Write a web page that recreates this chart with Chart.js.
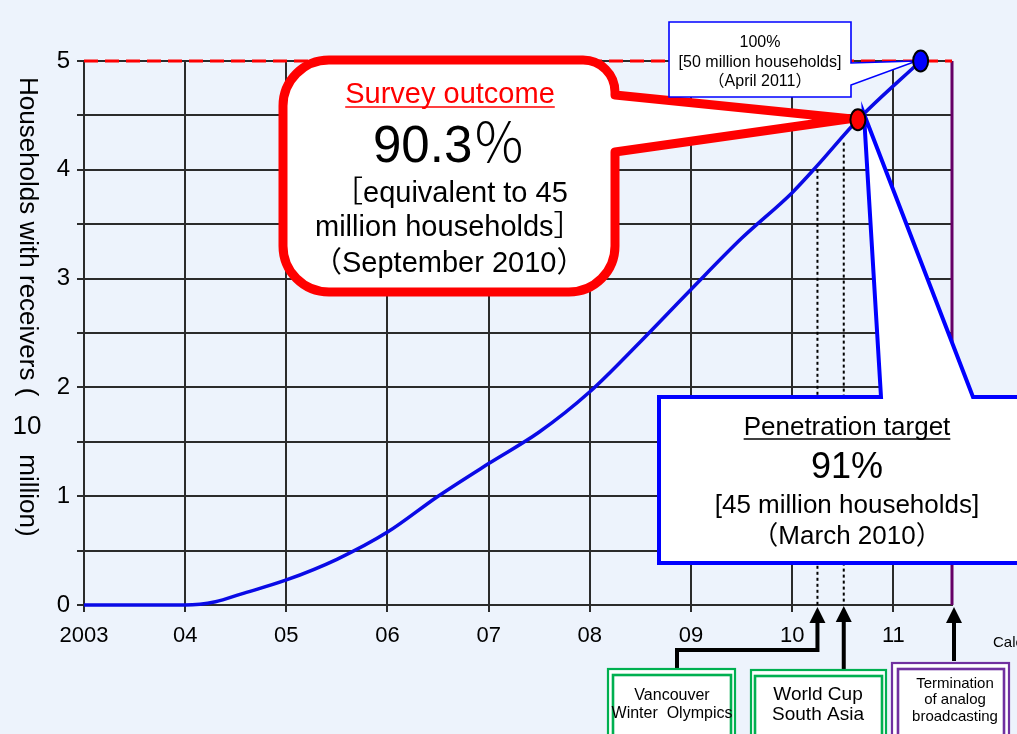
<!DOCTYPE html>
<html>
<head>
<meta charset="utf-8">
<script src="https://cdn.jsdelivr.net/npm/chart.js@4.4.1/dist/chart.umd.min.js"></script>
<style>
  html, body { margin: 0; padding: 0; background: #edf3fc; }
  canvas { display: block; }
</style>
</head>
<body>
<canvas id="chart" width="1017" height="734"></canvas>
<script>
// calendar years on the x axis and their printed labels
const yearTicks = [2003, 2004, 2005, 2006, 2007, 2008, 2009, 2010, 2011];
const yearLabels = ['2003', '04', '05', '06', '07', '08', '09', '10', '11'];
const yTicks = [0, 0.5, 1, 1.5, 2, 2.5, 3, 3.5, 4, 4.5, 5];

// households with receivers (10 million)
const curveX = [2003, 2004, 2004.3, 2004.55, 2005, 2005.5, 2006, 2006.5, 2007, 2007.5, 2008, 2008.5, 2009, 2009.5, 2010, 2010.25, 2010.65, 2011.27];
const curveY = [0, 0, 0.03, 0.1, 0.23, 0.42, 0.67, 1.0, 1.3, 1.59, 1.96, 2.42, 2.9, 3.37, 3.79, 4.04, 4.46, 5.0];

const targetLevel = 5;       // 100% = 50 million households
const axisEnd = 2011.58;     // July 2011, end of analog broadcasting

// survey result (Sept 2010) and full penetration (April 2011)
const surveyPoint = { x: 2010.65, y: 4.46 };
const fullPoint = { x: 2011.27, y: 5.0 };

// events marked under the axis
const eventDates = [2010.25, 2010.51, 2011.58];
const eventLevels = [4.0, 4.25, 5];

const FONT = '"Liberation Sans", Arial, "Noto Sans CJK JP", sans-serif';

function txt(ctx, s, x, y, size, color, align, underline) {
  ctx.font = size + 'px ' + FONT;
  ctx.fillStyle = color || '#000';
  ctx.textAlign = align || 'center';
  ctx.textBaseline = 'alphabetic';
  ctx.fillText(s, x, y);
  if (underline) {
    const w = ctx.measureText(s).width;
    const x0 = align === 'left' ? x : (align === 'right' ? x - w : x - w / 2);
    ctx.strokeStyle = color || '#000';
    ctx.lineWidth = 1.5;
    ctx.beginPath();
    ctx.moveTo(x0, y + 4);
    ctx.lineTo(x0 + w, y + 4);
    ctx.stroke();
  }
}

function arrowUp(ctx, pts) {
  ctx.strokeStyle = '#000';
  ctx.fillStyle = '#000';
  ctx.lineWidth = 4;
  ctx.lineJoin = 'miter';
  ctx.beginPath();
  ctx.moveTo(pts[0][0], pts[0][1]);
  for (let i = 1; i < pts.length; i++) ctx.lineTo(pts[i][0], pts[i][1] + (i === pts.length - 1 ? 14 : 0));
  ctx.stroke();
  const tip = pts[pts.length - 1];
  ctx.beginPath();
  ctx.moveTo(tip[0], tip[1]);
  ctx.lineTo(tip[0] - 8, tip[1] + 16);
  ctx.lineTo(tip[0] + 8, tip[1] + 16);
  ctx.closePath();
  ctx.fill();
}

function doubleBox(ctx, o, inn, color) {
  ctx.fillStyle = '#fff';
  ctx.fillRect(o[0], o[1], o[2] - o[0], o[3] - o[1]);
  ctx.strokeStyle = color;
  ctx.lineWidth = 2.2;
  ctx.strokeRect(o[0], o[1], o[2] - o[0], o[3] - o[1]);
  ctx.lineWidth = 2.6;
  ctx.strokeRect(inn[0], inn[1], inn[2] - inn[0], inn[3] - inn[1]);
}

const decorations = {
  id: 'decorations',
  beforeDraw(chart) {
    const ctx = chart.ctx;
    ctx.save();
    ctx.fillStyle = '#edf3fc';
    ctx.fillRect(0, 0, chart.width, chart.height);
    ctx.restore();
  },
  afterDatasetsDraw(chart) {
    const ctx = chart.ctx;
    const xs = chart.scales.x, ys = chart.scales.y;
    const sx = xs.getPixelForValue(surveyPoint.x), sy = ys.getPixelForValue(surveyPoint.y);
    const fx = xs.getPixelForValue(fullPoint.x), fy = ys.getPixelForValue(fullPoint.y);
    ctx.save();

    // red speech bubble
    const l = 283, t = 60, r = 615, b = 292, rad = 46;
    ctx.beginPath();
    ctx.moveTo(l + rad, t);
    ctx.lineTo(r - 32, t);
    ctx.arcTo(r, t, r, t + 32, 32);
    ctx.lineTo(r, 95);
    ctx.lineTo(sx - 8, sy - 1);
    ctx.lineTo(r, 152);
    ctx.lineTo(r, b - rad);
    ctx.arcTo(r, b, r - rad, b, rad);
    ctx.lineTo(l + rad, b);
    ctx.arcTo(l, b, l, b - rad, rad);
    ctx.lineTo(l, t + rad);
    ctx.arcTo(l, t, l + rad, t, rad);
    ctx.closePath();
    ctx.fillStyle = '#fff';
    ctx.fill();
    ctx.strokeStyle = '#ff0000';
    ctx.lineWidth = 9;
    ctx.lineJoin = 'round';
    ctx.stroke();

    txt(ctx, 'Survey outcome', 450, 103, 29, '#ff0000', 'center', true);
    txt(ctx, '90.3', 373, 162, 51, '#000', 'left');
    ctx.font = '300 54px "Noto Sans CJK JP", sans-serif';
    ctx.textAlign = 'left';
    ctx.fillText('％', 472, 163);
    txt(ctx, '［equivalent to 45', 334, 202, 29, '#000', 'left');
    txt(ctx, 'million households］', 315, 236, 29, '#000', 'left');
    txt(ctx, '（September 2010）', 313, 272, 29, '#000', 'left');

    // blue target box with pointer
    ctx.beginPath();
    ctx.moveTo(659, 397);
    ctx.lineTo(881, 397);
    ctx.lineTo(sx + 6, sy - 6);
    ctx.lineTo(973, 397);
    ctx.lineTo(1030, 397);
    ctx.lineTo(1030, 563);
    ctx.lineTo(659, 563);
    ctx.closePath();
    ctx.fillStyle = '#fff';
    ctx.fill();
    ctx.strokeStyle = '#0000ff';
    ctx.lineWidth = 4;
    ctx.lineJoin = 'miter';
    ctx.stroke();

    txt(ctx, 'Penetration target', 847, 435, 26, '#000', 'center', true);
    txt(ctx, '91%', 847, 478, 36, '#000');
    txt(ctx, '[45 million households]', 847, 513, 26, '#000');
    txt(ctx, '（March 2010）', 847, 544, 26, '#000');

    // small callout for 100%
    ctx.beginPath();
    ctx.moveTo(669, 22);
    ctx.lineTo(851, 22);
    ctx.lineTo(851, 63);
    ctx.lineTo(fx - 4, fy);
    ctx.lineTo(851, 85);
    ctx.lineTo(851, 97);
    ctx.lineTo(669, 97);
    ctx.closePath();
    ctx.fillStyle = '#fff';
    ctx.fill();
    ctx.strokeStyle = '#0000ff';
    ctx.lineWidth = 1.6;
    ctx.stroke();

    txt(ctx, '100%', 760, 47, 16, '#000');
    txt(ctx, '[50 million households]', 760, 67, 16, '#000');
    txt(ctx, '（April 2011）', 760, 86, 16, '#000');
    ctx.restore();
  },
  afterDraw(chart) {
    const ctx = chart.ctx;
    const xs = chart.scales.x, ys = chart.scales.y;
    ctx.save();

    // marker dots
    [[surveyPoint, '#ff0000'], [fullPoint, '#0000ff']].forEach(([p, c]) => {
      ctx.beginPath();
      ctx.ellipse(xs.getPixelForValue(p.x), ys.getPixelForValue(p.y), 7.5, 10.5, 0, 0, Math.PI * 2);
      ctx.fillStyle = c;
      ctx.fill();
      ctx.strokeStyle = '#000';
      ctx.lineWidth = 2;
      ctx.stroke();
    });

    // y axis title, reading top to bottom, "10" kept upright
    ctx.font = '26px ' + FONT;
    ctx.fillStyle = '#000';
    ctx.textBaseline = 'middle';
    let ty = 77;
    const part1 = 'Households with receivers (';
    ctx.save();
    ctx.translate(27, ty);
    ctx.rotate(Math.PI / 2);
    ctx.textAlign = 'left';
    ctx.fillText(part1, 0, 0);
    ty += ctx.measureText(part1).width;
    ctx.restore();
    ctx.textAlign = 'center';
    ctx.fillText('10', 27, ty + 30);
    ty += 58;
    ctx.save();
    ctx.translate(27, ty);
    ctx.rotate(Math.PI / 2);
    ctx.textAlign = 'left';
    ctx.fillText('million)', 0, 0);
    ctx.restore();

    txt(ctx, 'Calendar year', 993, 647, 15, '#000', 'left');

    // arrows up to the axis
    const base = ys.getPixelForValue(0) + 2;
    const e0 = xs.getPixelForValue(eventDates[0]);
    const e1 = xs.getPixelForValue(eventDates[1]);
    const e2 = xs.getPixelForValue(eventDates[2]) + 2;
    arrowUp(ctx, [[677, 670], [677, 650], [e0, 650], [e0, base]]);
    arrowUp(ctx, [[e1, 671], [e1, base - 1]]);
    arrowUp(ctx, [[e2, 661], [e2, base]]);

    doubleBox(ctx, [608, 669, 735, 745], [613, 675, 731, 745], '#00b050');
    txt(ctx, 'Vancouver', 672, 700, 16, '#000');
    txt(ctx, 'Winter  Olympics', 672, 718, 16, '#000');

    doubleBox(ctx, [751, 670, 886, 745], [755, 676, 882, 745], '#00b050');
    txt(ctx, 'World Cup', 818, 700, 19, '#000');
    txt(ctx, 'South Asia', 818, 720, 19, '#000');

    doubleBox(ctx, [892, 663, 1009, 745], [898, 669, 1004, 745], '#7030a0');
    txt(ctx, 'Termination', 955, 688, 15, '#000');
    txt(ctx, 'of analog', 955, 704, 15, '#000');
    txt(ctx, 'broadcasting', 955, 721, 15, '#000');
    ctx.restore();
  }
};

new Chart(document.getElementById('chart'), {
  type: 'scatter',
  data: {
    datasets: [
      {
        // 100% line
        data: [{ x: 2003, y: targetLevel }, { x: axisEnd, y: targetLevel }],
        showLine: true,
        clip: false,
        borderColor: '#ff0000',
        borderWidth: 3,
        borderDash: [14, 7],
        pointRadius: 0
      },
      {
        // analog switch-off
        data: [{ x: axisEnd, y: 0 }, { x: axisEnd, y: targetLevel }],
        showLine: true,
        clip: false,
        borderColor: '#660066',
        borderWidth: 3,
        pointRadius: 0
      },
      {
        data: [{ x: eventDates[0], y: eventLevels[0] }, { x: eventDates[0], y: 0 }],
        showLine: true,
        borderColor: '#000',
        borderWidth: 2,
        borderDash: [3, 3],
        pointRadius: 0
      },
      {
        data: [{ x: eventDates[1], y: eventLevels[1] }, { x: eventDates[1], y: 0 }],
        showLine: true,
        borderColor: '#000',
        borderWidth: 2,
        borderDash: [3, 3],
        pointRadius: 0
      },
      {
        data: curveX.map((x, i) => ({ x: x, y: curveY[i] })),
        showLine: true,
        clip: false,
        borderColor: '#0a0ae6',
        borderWidth: 3.5,
        cubicInterpolationMode: 'monotone',
        pointRadius: 0
      }
    ]
  },
  options: {
    responsive: false,
    animation: false,
    layout: { padding: { left: 0, right: 65, top: 61, bottom: 0 } },
    plugins: {
      legend: { display: false },
      tooltip: { enabled: false }
    },
    scales: {
      x: {
        type: 'linear',
        min: 2003,
        max: axisEnd,
        afterBuildTicks: s => { s.ticks = yearTicks.map(v => ({ value: v })); },
        afterFit: s => { s.height = 129; },
        ticks: {
          callback: (v, i) => yearLabels[i],
          font: { size: 22, family: FONT },
          color: '#000',
          padding: 11,
          maxRotation: 0,
          autoSkip: false
        },
        grid: { color: '#2b2b2b', lineWidth: 2, tickLength: 7 },
        border: { color: '#2b2b2b', width: 2 }
      },
      y: {
        min: 0,
        max: 5,
        afterBuildTicks: s => { s.ticks = yTicks.map(v => ({ value: v })); },
        afterFit: s => { s.width = 84; },
        ticks: {
          callback: v => (Number.isInteger(v) ? String(v) : ''),
          font: { size: 24, family: FONT },
          color: '#000',
          padding: 7,
          autoSkip: false
        },
        grid: { color: '#2b2b2b', lineWidth: 2, tickLength: 7 },
        border: { color: '#2b2b2b', width: 2 }
      }
    }
  },
  plugins: [decorations]
});
</script>
</body>
</html>
